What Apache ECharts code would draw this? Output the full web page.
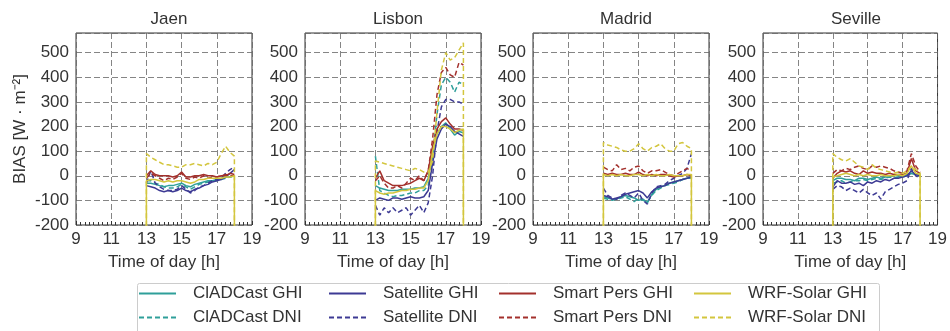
<!DOCTYPE html>
<html>
<head>
<meta charset="utf-8">
<title>BIAS by time of day</title>
<script src="https://cdn.jsdelivr.net/npm/echarts@6/dist/echarts.min.js"></script>
<style>
  html, body { margin: 0; padding: 0; background: #ffffff; }
  #chart { width: 950px; height: 331px; }
</style>
</head>
<body>
<div id="chart"></div>
<script>
// Forecast time steps (hours of day, 15-min resolution)
const times = [13, 13.25, 13.5, 13.75, 14, 14.25, 14.5, 14.75, 15, 15.25, 15.5,
               15.75, 16, 16.25, 16.5, 16.75, 17, 17.25, 17.5, 17.75, 18];

const cities = ['Jaen', 'Lisbon', 'Madrid', 'Seville'];
const xTickLabels = [9, 11, 13, 15, 17, 19];
const yTickLabels = [-200, -100, 0, 100, 200, 300, 400, 500];

// Value the WRF-Solar output falls to outside the forecast window
const wrfOutsideValue = -400;

// ---- Jaen ----
const jaenCiadGhi  = [-30, -30, -35, -40, -45, -40, -40, -35, -30, -40, -45, -35, -30, -25, -20, -20, -15, -10, -5, -5, 0];
const jaenCiadDni  = [-20, -20, -30, -35, -45, -50, -50, -45, -35, -45, -55, -45, -35, -30, -25, -20, -20, -15, -10, -5, 0];
const jaenSatGhi   = [-40, -45, -50, -60, -65, -60, -65, -60, -50, -60, -65, -55, -50, -40, -35, -25, -20, -15, -5, 10, 25];
const jaenSatDni   = [-30, 20, -30, -45, -55, -60, -60, -55, -40, -55, -70, -60, -45, -40, -30, -20, -15, -10, 10, 25, 35];
const jaenSmartGhi = [0, 20, 5, 0, 0, 0, -5, 0, 15, -5, -5, 0, 0, 5, 0, 0, -5, 0, 0, 10, 5];
const jaenSmartDni = [-10, 10, 0, -10, -20, -10, -15, -5, 10, -10, -15, -5, -10, 0, -10, -5, -5, 0, 5, 0, 0];
const jaenWrfGhi   = [-20, -15, -15, -20, -25, -20, -25, -20, -20, -25, -30, -25, -15, -15, -10, -10, -10, -10, -5, -5, 0];
const jaenWrfDni   = [90, 75, 65, 55, 45, 45, 40, 35, 35, 45, 45, 50, 45, 40, 50, 45, 55, 90, 120, 95, 80];

// ---- Lisbon ----
const lisCiadGhi  = [-40, -50, -55, -60, -60, -60, -55, -55, -55, -50, -50, -45, -10, 100, 170, 200, 215, 190, 165, 180, 175];
const lisCiadDni  = [80, -60, -70, -80, -85, -80, -80, -75, -70, -70, -60, -60, -40, 80, 250, 370, 400, 380, 340, 380, 370];
const lisSatGhi   = [-100, -90, -95, -100, -90, -90, -95, -90, -85, -90, -90, -85, -60, 50, 150, 190, 210, 200, 180, 170, 160];
const lisSatDni   = [-120, -160, -130, -150, -130, -150, -140, -130, -160, -140, -120, -150, -110, 0, 180, 280, 310, 310, 300, 300, 290];
const lisSmartGhi = [-10, 20, -20, -30, -40, -40, -40, -35, -30, -20, -10, -20, 20, 120, 190, 220, 235, 210, 190, 190, 185];
const lisSmartDni = [-20, 0, -30, -50, -50, -40, -50, -30, -10, -20, 0, -20, 20, 150, 330, 420, 440, 410, 400, 460, 450];
const lisWrfGhi   = [-60, -70, -75, -70, -70, -65, -60, -60, -55, -55, -50, -50, -20, 100, 170, 200, 200, 190, 175, 185, 190];
const lisWrfDni   = [60, 55, 50, 45, 40, 35, 30, 25, 20, 30, 25, 15, 15, 60, 260, 430, 500, 470, 480, 510, 540];

// ---- Madrid ----
const madCiadGhi  = [-85, -90, -95, -95, -85, -80, -85, -90, -100, -95, -110, -75, -55, -45, -40, -30, -25, -20, -15, -10, -5];
const madCiadDni  = [-90, -95, -100, -95, -90, -85, -95, -105, -90, -100, -105, -80, -60, -50, -40, -35, -30, -25, -15, -10, -10];
const madSatGhi   = [-80, -85, -95, -90, -85, -75, -70, -65, -60, -70, -90, -65, -50, -45, -40, -30, -25, -20, -15, -10, -5];
const madSatDni   = [-50, -80, -90, -95, -80, -70, -80, -90, -70, -100, -115, -70, -45, -40, -35, -20, -10, 0, 10, 30, 90];
const madSmartGhi = [10, 5, 10, 5, 5, 10, 5, 5, 15, 5, 0, 5, 0, 5, 5, 0, -5, 0, 0, 5, 0];
const madSmartDni = [35, 25, 20, 45, 25, 30, 20, 35, 40, 20, 10, 20, 20, 25, 15, 5, 0, 10, 20, 30, 20];
const madWrfGhi   = [5, 0, 5, 0, 5, 0, 0, 5, 5, 0, 5, 0, 5, 0, 0, 5, 0, 0, 0, 5, 5];
const madWrfDni   = [135, 125, 120, 115, 105, 100, 100, 110, 130, 110, 100, 115, 120, 130, 110, 100, 100, 130, 135, 120, 110];

// ---- Seville ----
const sevCiadGhi  = [-20, -10, -10, -15, -15, -20, -10, -10, -15, -10, -5, -10, -5, -5, 0, 0, 0, 5, 10, 5, 5];
const sevCiadDni  = [-30, -25, -20, -30, -25, -20, -20, -15, -20, -15, -10, -15, -10, -5, -10, -5, -5, 0, 10, 5, 0];
const sevSatGhi   = [-45, -20, -30, -30, -25, -35, -30, -40, -25, -30, -20, -25, -15, -20, -10, -10, -5, 0, 20, 5, 0];
const sevSatDni   = [-55, -40, -45, -60, -50, -60, -70, -55, -70, -80, -70, -95, -65, -55, -45, -35, -30, -20, 30, 0, -10];
const sevSmartGhi = [-10, 10, 20, 15, 20, 10, 5, 20, 10, 15, 10, 10, 5, 10, 5, 5, 5, 10, 70, 20, 10];
const sevSmartDni = [10, 25, 20, 30, 25, 35, 40, 30, 25, 40, 35, 40, 35, 30, 20, 15, 10, 20, 90, 40, 15];
const sevWrfGhi   = [-5, 0, 5, 10, 5, 0, 5, 0, 5, 0, 0, 5, 0, 0, 0, 5, 0, 10, 40, 10, 5];
const sevWrfDni   = [90, 75, 65, 60, 70, 55, 40, 35, 25, 45, 30, 25, 20, 15, 10, 15, 10, 20, 40, 25, 15];

const cityData = [
  [jaenCiadGhi, jaenCiadDni, jaenSatGhi, jaenSatDni, jaenSmartGhi, jaenSmartDni, jaenWrfGhi, jaenWrfDni],
  [lisCiadGhi, lisCiadDni, lisSatGhi, lisSatDni, lisSmartGhi, lisSmartDni, lisWrfGhi, lisWrfDni],
  [madCiadGhi, madCiadDni, madSatGhi, madSatDni, madSmartGhi, madSmartDni, madWrfGhi, madWrfDni],
  [sevCiadGhi, sevCiadDni, sevSatGhi, sevSatDni, sevSmartGhi, sevSmartDni, sevWrfGhi, sevWrfDni]
];

const seriesNames = ['ClADCast GHI', 'ClADCast DNI', 'Satellite GHI', 'Satellite DNI',
                     'Smart Pers GHI', 'Smart Pers DNI', 'WRF-Solar GHI', 'WRF-Solar DNI'];
const seriesColors = ['#2f9f9a', '#2f9f9a', '#3d3a94', '#3d3a94',
                      '#a3302c', '#a3302c', '#d3c63e', '#d3c63e'];
const seriesDashed = [false, true, false, true, false, true, false, true];
const seriesDropsOutside = [false, false, false, false, false, false, true, true];

// ---- layout ----
const FONT = "'Liberation Sans', Arial, Helvetica, sans-serif";
const TEXT = '#333333';
const gridLefts = [76, 305, 533, 763];
const gridWidth = 176;
const gridTop = 33;
const gridHeight = 192;

const grids = [], xAxes = [], yAxes = [], titles = [], series = [];

cities.forEach((city, gi) => {
  grids.push({
    left: gridLefts[gi], top: gridTop, width: gridWidth, height: gridHeight,
    show: true, borderColor: '#333', borderWidth: 1, backgroundColor: '#fff'
  });
  titles.push({
    text: city,
    left: gridLefts[gi] + gridWidth / 2,
    top: 6,
    textAlign: 'center',
    textStyle: { fontFamily: FONT, fontSize: 17, fontWeight: 'normal', color: TEXT }
  });
  xAxes.push({
    type: 'value', gridIndex: gi, min: 9, max: 19, interval: 2,
    name: 'Time of day [h]', nameLocation: 'middle', nameGap: 29,
    nameTextStyle: { fontFamily: FONT, fontSize: 17, color: TEXT },
    axisLine: { show: false, onZero: false },
    axisTick: { show: true, inside: true, length: 4, lineStyle: { color: '#333' } },
    minorTick: { show: true, splitNumber: 8, length: 3, lineStyle: { color: '#333' } },
    axisLabel: {
      fontFamily: FONT, fontSize: 17, color: TEXT, margin: 6,
      formatter: v => (xTickLabels.includes(v) ? String(v) : '')
    },
    splitLine: { show: true, lineStyle: { color: '#666', width: 0.8, type: [6, 3] } }
  });
  yAxes.push({
    type: 'value', gridIndex: gi, min: -200, max: 580, interval: 100,
    name: gi === 0 ? 'BIAS [W · m⁻²]' : '',
    nameLocation: 'middle', nameGap: 47, nameRotate: 90,
    nameTextStyle: { fontFamily: FONT, fontSize: 17, color: TEXT },
    axisLine: { show: false, onZero: false },
    axisTick: { show: false },
    axisLabel: {
      fontFamily: FONT, fontSize: 17, color: TEXT, margin: 7, showMaxLabel: false,
      formatter: v => (yTickLabels.includes(v) ? String(v) : '')
    },
    splitLine: { show: true, lineStyle: { color: '#666', width: 0.8, type: [6, 3] } }
  });

  cityData[gi].forEach((values, si) => {
    const pts = times.map((t, i) => [t, values[i]]);
    if (seriesDropsOutside[si]) {
      pts.unshift([times[0], wrfOutsideValue]);
      pts.push([times[times.length - 1], wrfOutsideValue]);
    }
    series.push({
      type: 'line',
      name: seriesNames[si],
      xAxisIndex: gi, yAxisIndex: gi,
      data: pts,
      symbol: 'none', showSymbol: false,
      clip: true,
      z: 3 + si,
      lineStyle: { color: seriesColors[si], width: 1.5, type: seriesDashed[si] ? [5, 3] : 'solid' },
      itemStyle: { color: seriesColors[si] },
      emphasis: { disabled: true }
    });
  });
});

// Legend: four columns, GHI on the top row and DNI below
const legendLefts = [138, 328, 498, 693];
const legends = legendLefts.map((x, c) => ({
  orient: 'vertical',
  left: x, top: 285,
  height: 60,
  padding: 0,
  data: [seriesNames[c * 2], seriesNames[c * 2 + 1]],
  itemWidth: 37, itemHeight: 12, itemGap: 7,
  selectedMode: false,
  itemStyle: { color: 'rgba(0,0,0,0)', borderWidth: 0, opacity: 0 },
  textStyle: { fontFamily: FONT, fontSize: 17, color: TEXT, padding: [0, 0, 0, 12] }
}));

const option = {
  animation: false,
  backgroundColor: '#ffffff',
  title: titles,
  grid: grids,
  xAxis: xAxes,
  yAxis: yAxes,
  legend: legends,
  series: series,
  graphic: [{
    type: 'rect',
    left: 135, top: 281,
    shape: { width: 742, height: 60, r: 2 },
    style: { fill: 'none', stroke: '#cccccc', lineWidth: 1 },
    silent: true
  }]
};

const chart = echarts.init(document.getElementById('chart'), null, { renderer: 'canvas' });
chart.setOption(option);
</script>
</body>
</html>
